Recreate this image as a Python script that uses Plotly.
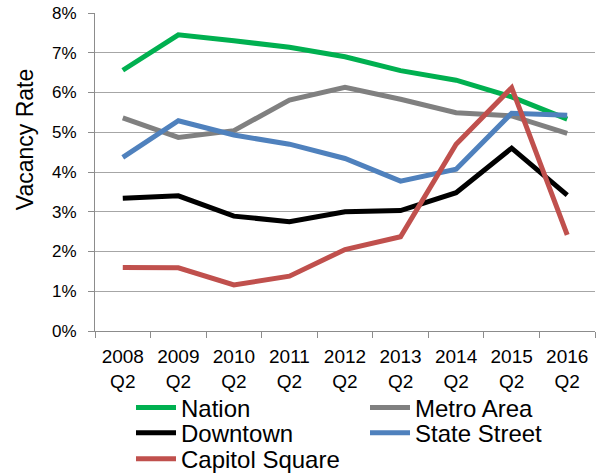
import plotly.graph_objects as go

categories = ["2008<br>Q2", "2009<br>Q2", "2010<br>Q2", "2011<br>Q2", "2012<br>Q2",
              "2013<br>Q2", "2014<br>Q2", "2015<br>Q2", "2016<br>Q2"]
nation = [6.56, 7.45, 7.30, 7.14, 6.90, 6.55, 6.31, 5.89, 5.33]
metro_area = [5.36, 4.87, 5.04, 5.81, 6.13, 5.83, 5.49, 5.41, 4.97]
downtown = [3.34, 3.40, 2.89, 2.75, 3.00, 3.03, 3.48, 4.60, 3.42]
state_street = [4.37, 5.29, 4.93, 4.70, 4.34, 3.77, 4.07, 5.48, 5.43]
capitol_square = [1.60, 1.59, 1.16, 1.38, 2.05, 2.37, 4.70, 6.12, 2.42]
y_ticks = [0, 1, 2, 3, 4, 5, 6, 7, 8]

series = [
    ("Nation", nation, "#00b050"),
    ("Metro Area", metro_area, "#808080"),
    ("Downtown", downtown, "#000000"),
    ("State Street", state_street, "#4f81bd"),
    ("Capitol Square", capitol_square, "#c0504d"),
]

font = "Liberation Sans, Arial, sans-serif"

# legend slot for each series: (column x, row y) in paper coordinates
legend_slots = [(0.072, -0.242), (0.54, -0.242),
                (0.072, -0.321), (0.54, -0.321),
                (0.072, -0.403)]

fig = go.Figure()
layout_legends = {}
for i, ((name, vals, color), (lx, ly)) in enumerate(zip(series, legend_slots)):
    key = "legend" if i == 0 else f"legend{i + 1}"
    fig.add_trace(go.Scatter(x=categories, y=[v / 100 for v in vals], name=name,
                             mode="lines", line=dict(color=color, width=5),
                             legend=key, showlegend=True))
    layout_legends[key] = dict(x=lx, xanchor="left", y=ly, yanchor="middle",
                               orientation="v", font=dict(size=24, family=font),
                               itemwidth=40, bgcolor="rgba(0,0,0,0)")

fig.update_layout(
    width=598, height=475,
    margin=dict(l=95, r=3, t=13, b=144, autoexpand=False),
    plot_bgcolor="white", paper_bgcolor="white",
    font=dict(family=font, color="#000000"),
    showlegend=True,
    **layout_legends,
)
fig.add_annotation(text="Vacancy Rate", xref="paper", yref="paper",
                   x=-0.14, y=0.60, xanchor="center", yanchor="middle",
                   textangle=-90, showarrow=False,
                   font=dict(size=23, family=font, color="#000000"))
fig.update_xaxes(
    type="category", showline=True, linecolor="#8c8c8c", linewidth=1,
    ticks="outside", tickson="boundaries", ticklen=6, tickcolor="#8c8c8c",
    showgrid=False, tickfont=dict(size=19, family=font), range=[-0.5, 8.5],
    ticklabelstandoff=8, ticklabeloverflow="allow",
)
fig.update_yaxes(
    range=[0, 0.08], tickvals=[t / 100 for t in y_ticks],
    ticktext=[f"{t}%" for t in y_ticks],
    showline=True, linecolor="#8c8c8c", linewidth=1,
    ticks="outside", ticklen=6, tickcolor="#8c8c8c",
    showgrid=True, gridcolor="#a6a6a6", gridwidth=1, zeroline=False,
    tickfont=dict(size=17, family=font), ticklabelstandoff=8,
    ticklabeloverflow="allow",
)
fig.write_html("out.html",
               config={"displayModeBar": False},
               post_script="document.body.style.margin='0';"
                           "document.body.style.overflow='hidden';")
